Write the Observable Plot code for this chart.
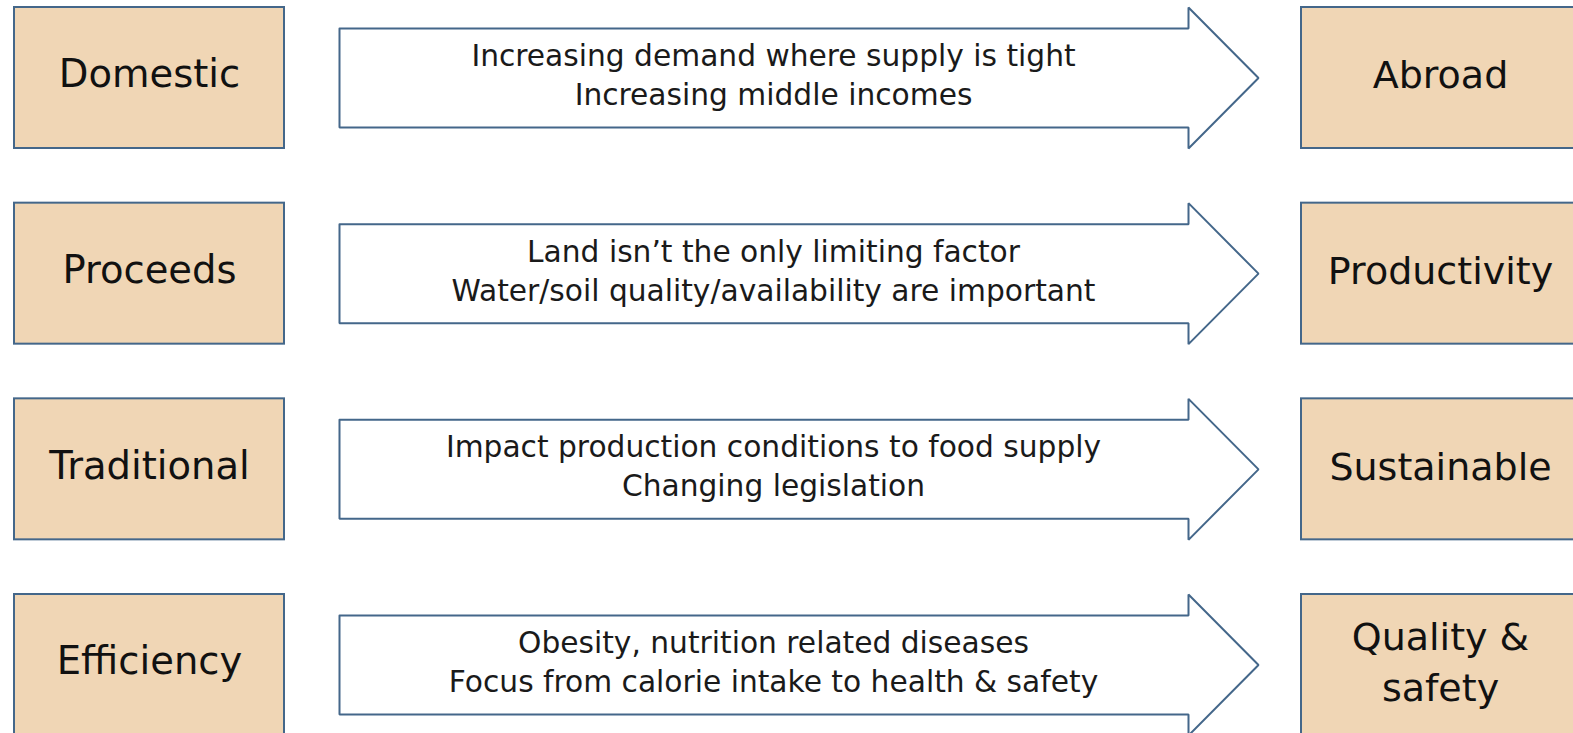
<!DOCTYPE html>
<html>
<head>
<meta charset="utf-8">
<script src="https://cdn.jsdelivr.net/npm/d3@7"></script>
<script src="https://cdn.jsdelivr.net/npm/@observablehq/plot@0.6"></script>
<style>
  html, body { margin: 0; padding: 0; background: #fff; overflow: hidden; }
  svg { display: block; }
</style>
</head>
<body>
<div id="chart"></div>
<script>
// ---- content ----
const fromLabels = ["Domestic", "Proceeds", "Traditional", "Efficiency"];
const toLabels = ["Abroad", "Productivity", "Sustainable", "Quality &\nsafety"];
const driverLine1 = [
  "Increasing demand where supply is tight",
  "Land isn\u2019t the only limiting factor",
  "Impact production conditions to food supply",
  "Obesity, nutrition related diseases"
];
const driverLine2 = [
  "Increasing middle incomes",
  "Water/soil quality/availability are important",
  "Changing legislation",
  "Focus from calorie intake to health & safety"
];

// ---- layout ----
const W = 1573, H = 733;
const rowTop0 = 7, rowStep = 195.67, boxH = 141;
const leftBox = [14, 284], rightBox = [1301, 1580];
const arrowX0 = 339, headX = 1188, tipX = 1258, bodyInset = 21;
const textCx = 773;
const fill = "#F0D6B5", stroke = "#44678A";

const rows = fromLabels.map((f, i) => {
  const top = rowTop0 + i * rowStep;
  return {i, top, bottom: top + boxH, mid: top + boxH / 2,
    from: f, to: toLabels[i], text: driverLine1[i] + "\n" + driverLine2[i]};
});

const boxes = rows.flatMap(r => [
  {x1: leftBox[0], x2: leftBox[1], y1: r.top, y2: r.bottom},
  {x1: rightBox[0], x2: rightBox[1], y1: r.top, y2: r.bottom}
]);

const arrowPts = rows.flatMap(r => {
  const bt = r.top + bodyInset, bb = r.bottom - bodyInset;
  return [
    [arrowX0, bt], [headX, bt], [headX, r.top], [tipX, r.mid],
    [headX, r.bottom], [headX, bb], [arrowX0, bb], [arrowX0, bt]
  ].map(([x, y]) => ({row: r.i, x, y}));
});

const font = "DejaVu Sans, Verdana, sans-serif";

const chart = Plot.plot({
  width: W, height: H,
  margin: 0,
  x: {domain: [0, W], range: [0, W], axis: null},
  y: {domain: [0, H], range: [0, H], axis: null},
  style: {fontFamily: font, background: "#fff"},
  marks: [
    Plot.rect(boxes, {x1: "x1", x2: "x2", y1: "y1", y2: "y2", fill, stroke, strokeWidth: 2}),
    Plot.line(arrowPts, {x: "x", y: "y", z: "row", fill: "#fff", stroke, strokeWidth: 2, strokeLinejoin: "miter", curve: "linear"}),
    Plot.text(rows, {x: (leftBox[0] + leftBox[1]) / 2, y: "mid", text: "from", fontSize: 38.5, fill: "#111", lineAnchor: "middle", dy: -3}),
    Plot.text(rows, {x: 1440, y: "mid", text: "to", fontSize: 38, fill: "#111", lineAnchor: "middle", lineHeight: 1.34, dy: -6}),
    Plot.text(rows, {x: textCx, y: "mid", text: "text", fontSize: 29.7, fill: "#1a1a1a", lineAnchor: "middle", lineHeight: 1.31, dy: -5})
  ]
});
document.getElementById("chart").appendChild(chart);
</script>
</body>
</html>
